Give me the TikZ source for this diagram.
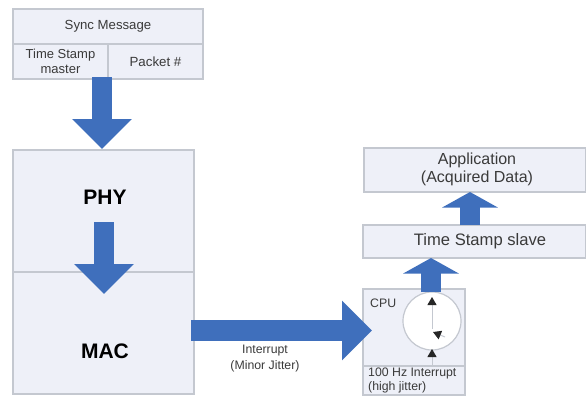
\documentclass[tikz,border=0pt]{standalone}
\usepackage{fontspec}
\setmainfont{Liberation Sans}
\usetikzlibrary{arrows.meta}
\definecolor{boxfill}{HTML}{EEF0F8}
\definecolor{boxline}{HTML}{C4C8D0}
\definecolor{arrowblue}{HTML}{3F6FBC}
\definecolor{textgray}{HTML}{3A3A3A}
\newcommand{\fs}[1]{\fontsize{#1}{#1}\selectfont}
\tikzset{
	block/.style={draw=boxline, line width=1.2, fill=boxfill, inner sep=0pt, text=textgray, align=center},
	bigarrow/.style={draw=arrowblue, line width=20.5, -{Triangle[length=30,width=58]}},
	midarrow/.style={draw=arrowblue, line width=20, -{Triangle[length=15.5,width=55]}},
	hand/.style={draw=boxline, line width=1, -{Triangle[length=8,width=9,color=black!85]}},
	lbl/.style={inner sep=0pt, text=textgray, align=center}
}
\begin{document}
\begin{tikzpicture}[x=1pt, y=-1pt]
		\useasboundingbox (0,0) rectangle (586,396);
		% message at the top
		\node[block, minimum width=190, minimum height=35, font=\fs{13.2}] (sync) at (108,26.5) {Sync Message};
		\node[block, minimum width=95, minimum height=35, font=\fs{13}] (stamp) at (60.5,61.5) {Time Stamp\\[2pt]master};
		\node[block, minimum width=95, minimum height=35, font=\fs{13.3}] (packet) at (155.5,61.5) {Packet \#};
		% left column
		\node[block, minimum width=181, minimum height=122] (phy) at (103.5,211) {};
		\node[block, minimum width=181, minimum height=122] (mac) at (103.5,333) {};
		\node[lbl, text=black, font=\bfseries\fs{21}] (phytext) at (105,197) {PHY};
		\node[lbl, text=black, font=\bfseries\fs{21}] (mactext) at (105,351) {MAC};
		% right column
		\node[block, minimum width=222, minimum height=44] (app) at (475,170) {};
		\node[block, minimum width=223, minimum height=33] (slave) at (474.5,241.5) {};
		\node[lbl, font=\fs{16}] (apptext) at (477,169.5) {Application\\[2pt](Acquired Data)};
		\node[lbl, font=\fs{16.6}] (slavetext) at (480,241) {Time Stamp slave};
		\node[block, minimum width=102, minimum height=77] (cpu) at (414,327.5) {};
		\node[block, minimum width=102, minimum height=29] (irq) at (414,380.5) {};
		\node[lbl, anchor=west, font=\fs{12.3}] (cputext) at (370,303) {CPU};
		\node[lbl, anchor=west, align=left, font=\fs{12.3}] (irqtext) at (368,380.5) {100 Hz Interrupt\\[2pt](high jitter)};
		\node[draw=boxline, line width=1.2, fill=white, circle, minimum size=58, inner sep=0pt] (clock) at (432,321) {};
		% free ends of the arrows
		\coordinate (down1) at (102,77);
		\coordinate (down1end) at (102,149);
		\coordinate (down2) at (104,222);
		\coordinate (down2end) at (104,294);
		\coordinate (irqout) at (191,330.5);
		\coordinate (irqend) at (372,330.5);
		\coordinate (up1) at (431,292);
		\coordinate (up1end) at (431,258);
		\coordinate (up2) at (470,225);
		\coordinate (up2end) at (470,192);
		\coordinate (minute) at (432,329);
		\coordinate (minuteend) at (432,297);
		\coordinate (hour) at (445,337);
		\coordinate (hourend) at (433,332);
		\coordinate (tick) at (432,366);
		\coordinate (tickend) at (432,349);
		% block arrows
		\draw[bigarrow] (down1) -- (down1end);
		\draw[bigarrow] (down2) -- (down2end);
		\draw[bigarrow] (irqout) -- (irqend);
		\draw[midarrow] (up1) -- (up1end);
		\draw[midarrow] (up2) -- (up2end);
		% clock hands
		\draw[hand] (minute) -- (minuteend);
		\draw[hand] (hour) -- (hourend);
		\draw[hand] (tick) -- (tickend);
		\node[lbl, font=\fs{12.3}] (jitter) at (265,358.5) {Interrupt\\[3pt](Minor Jitter)};
		\end{tikzpicture}
\end{document}
